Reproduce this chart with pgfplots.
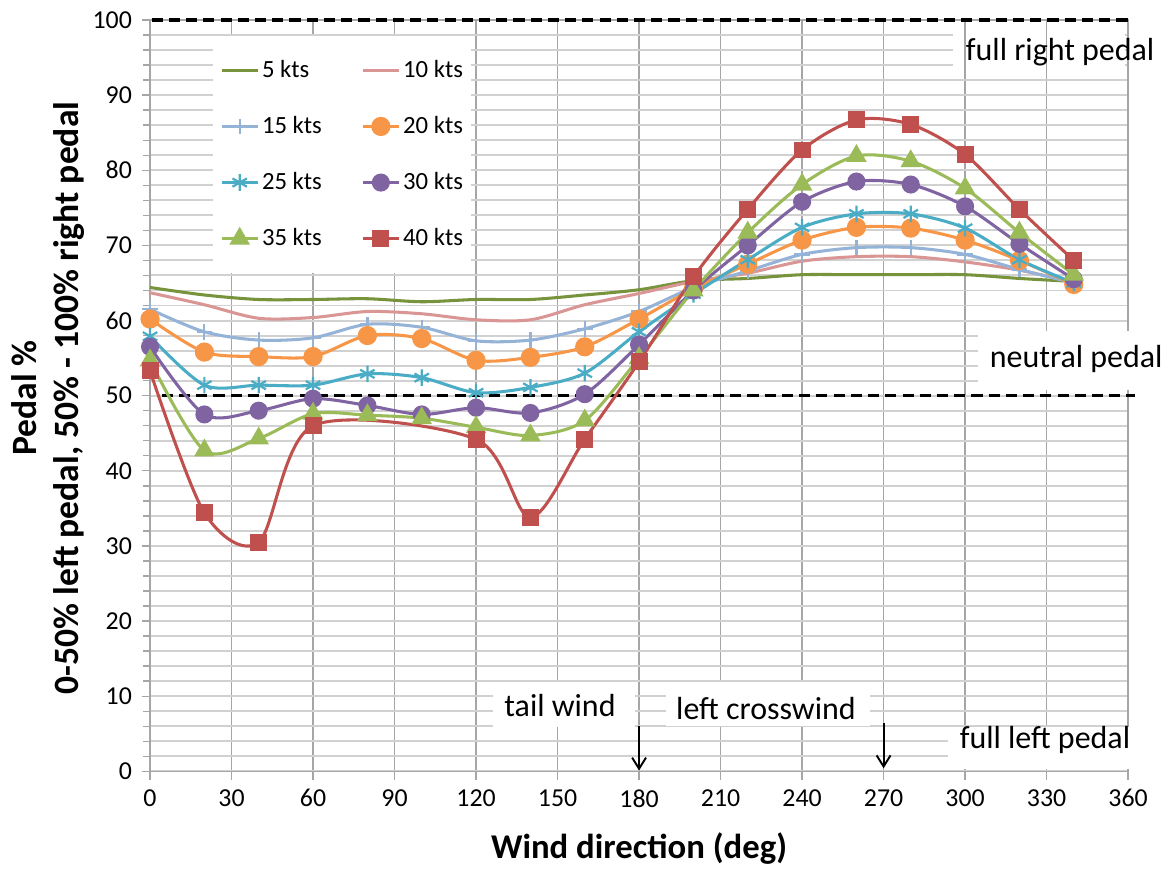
\documentclass[border=0pt]{standalone}
\usepackage{fontspec}
\setmainfont{Carlito}
\usepackage{pgfplots}
\pgfplotsset{compat=1.18}
\usetikzlibrary{arrows.meta}

\definecolor{kA}{HTML}{77933C}
\definecolor{kB}{HTML}{D99694}
\definecolor{kC}{HTML}{95B3D7}
\definecolor{kD}{HTML}{F79646}
\definecolor{kE}{HTML}{4BACC6}
\definecolor{kF}{HTML}{8064A2}
\definecolor{kG}{HTML}{9BBB59}
\definecolor{kH}{HTML}{C0504D}

\begin{document}
\begin{tikzpicture}
\begin{axis}[
    scale only axis,
    width=352pt, height=270.4pt,
    xmin=0, xmax=360, ymin=0, ymax=100,
    xtick={0,30,...,360},
    ytick={0,10,...,100},
    minor y tick num=4,
    tick pos=left,
    tick align=outside,
    major tick length=3pt,
    minor tick length=2.5pt,
    tick style={color=black!35, line width=0.5pt},
    axis line style={black!35, line width=0.5pt},
    xmajorgrids, ymajorgrids, yminorgrids,
    x grid style={color=black!35, line width=0.5pt},
    y grid style={color=black!18, line width=0.7pt},
    ticklabel style={font=\fontsize{9.3}{11}\selectfont},
    /pgf/number format/assume math mode=true,
    xlabel={Wind direction (deg)},
    xlabel style={font=\bfseries\fontsize{12.5}{14}\selectfont,
        at={(axis description cs:0.5,-0.1158)}, anchor=base},
    ylabel={Pedal \%\\0-50\% left pedal, 50\% - 100\% right pedal},
    ylabel style={font=\bfseries\fontsize{12.8}{15.1}\selectfont, align=center,
        at={(axis description cs:-0.1043,0.497)}, anchor=center},
    clip=false,
    legend columns=2,
    legend cell align=left,
    legend image code/.code={
        \draw[mark repeat=2,mark phase=2,#1]
            plot coordinates {(0pt,0pt) (6.3pt,0pt) (12.6pt,0pt)};},
    legend style={draw=none, fill=white,
        at={(0.0634,0.98)}, anchor=north west,
        inner xsep=2.9pt, inner ysep=8pt,
        font=\fontsize{8.9}{11}\selectfont,
        row sep=11.2pt,
        nodes={inner sep=0pt, text height=7pt, text depth=2pt},
        /tikz/every odd column/.append style={column sep=1.2pt},
        /tikz/every even column/.append style={column sep=14.4pt}},
]

% white boxes behind the annotations
\fill[white] (axis cs:295.6,92.6) rectangle (axis cs:359.0,99.3);
\fill[white] (axis cs:304.8,50.7) rectangle (axis cs:373.6,58.6);
\fill[white] (axis cs:126.3,5.9) rectangle (axis cs:178.5,11.9);
\fill[white] (axis cs:189.9,6.0) rectangle (axis cs:265.0,11.9);
\fill[white] (axis cs:293.7,0.3) rectangle (axis cs:360.3,5.9);
\draw[black!35, line width=0.5pt] (axis cs:300,92.6) -- (axis cs:300,99.3);
\draw[black!35, line width=0.5pt] (axis cs:330,92.6) -- (axis cs:330,99.3);

\node[anchor=base, inner sep=0pt, font=\fontsize{11.5}{13}\selectfont]
    at (axis cs:335.0,94.65) {full right pedal};
\node[anchor=base, inner sep=0pt, font=\fontsize{11.5}{13}\selectfont]
    at (axis cs:340.9,53.7) {neutral pedal};
\node[anchor=base, inner sep=0pt, font=\fontsize{11.5}{13}\selectfont]
    at (axis cs:150.9,7.3) {tail wind};
\node[anchor=base, inner sep=0pt, font=\fontsize{11.5}{13}\selectfont]
    at (axis cs:226.7,6.9) {left crosswind};
\node[anchor=base, inner sep=0pt, font=\fontsize{11.5}{13}\selectfont]
    at (axis cs:329.4,3.0) {full left pedal};

\draw[black, line width=1.1pt, dash pattern=on 4pt off 2.2pt]
    (axis cs:0.6,100) -- (axis cs:360.3,100);
\draw[black, line width=1.1pt, dash pattern=on 4pt off 2.2pt]
    (axis cs:4.3,50) -- (axis cs:362.4,50);
\draw[black, line width=0.7pt, -{Straight Barb[length=4pt,width=5pt]}]
    (axis cs:180,6.0) -- (axis cs:180,0.1);
\draw[black, line width=0.7pt, -{Straight Barb[length=4pt,width=5pt]}]
    (axis cs:270,6.4) -- (axis cs:270,0.4);

\addplot[kA, line width=1.1pt, smooth, no markers] coordinates {
(0,64.4)(20,63.4)(40,62.8)(60,62.8)(80,62.9)(100,62.5)(120,62.8)(140,62.8)(160,63.4)
(180,64.1)(200,65.3)(220,65.6)(240,66.1)(260,66.1)(280,66.1)(300,66.1)(320,65.6)(340,65.2)};
\addplot[kB, line width=1.1pt, smooth, no markers] coordinates {
(0,63.7)(20,62.1)(40,60.3)(60,60.4)(80,61.2)(100,60.9)(120,60.1)(140,60.1)(160,62.1)
(180,63.6)(200,65.2)(220,66.3)(240,67.9)(260,68.5)(280,68.5)(300,67.8)(320,66.7)(340,65.1)};
\addplot[kC, line width=1.1pt, smooth, mark=+, mark size=2.8pt, mark options={line width=0.8pt}] coordinates {
(0,61.5)(20,58.5)(40,57.4)(60,57.7)(80,59.5)(100,59.1)(120,57.3)(140,57.4)(160,58.9)
(180,61.2)(200,64.4)(220,66.6)(240,68.8)(260,69.7)(280,69.7)(300,68.8)(320,66.8)(340,65.0)};
\addplot[kD, line width=1.1pt, smooth, mark=*, mark size=2.9pt, mark options={fill=kD}] coordinates {
(0,60.2)(20,55.8)(40,55.2)(60,55.2)(80,58.0)(100,57.6)(120,54.7)(140,55.1)(160,56.5)
(180,60.2)(200,64.2)(220,67.5)(240,70.7)(260,72.4)(280,72.3)(300,70.7)(320,68.0)(340,64.8)};
\addplot[kE, line width=1.1pt, smooth, mark=asterisk, mark size=3pt, mark options={line width=0.8pt}] coordinates {
(0,57.9)(20,51.4)(40,51.4)(60,51.4)(80,52.9)(100,52.4)(120,50.4)(140,51.1)(160,53.0)
(180,58.5)(200,63.5)(220,68.1)(240,72.4)(260,74.2)(280,74.2)(300,72.3)(320,68.1)(340,65.0)};
\addplot[kF, line width=1.1pt, smooth, mark=*, mark size=2.7pt, mark options={fill=kF}] coordinates {
(0,56.5)(20,47.5)(40,48.0)(60,49.6)(80,48.7)(100,47.5)(120,48.4)(140,47.7)(160,50.2)
(180,56.8)(200,64.0)(220,70.0)(240,75.8)(260,78.5)(280,78.1)(300,75.2)(320,70.2)(340,65.5)};
\addplot[kG, line width=1.1pt, smooth, mark=triangle*, mark size=3.2pt, mark options={fill=kG}] coordinates {
(0,54.7)(20,42.7)(40,44.3)(60,47.6)(80,47.4)(100,47.0)(120,45.8)(140,44.7)(160,46.7)
(180,55.0)(200,64.0)(220,71.7)(240,78.1)(260,81.9)(280,81.2)(300,77.6)(320,71.7)(340,66.1)};
\addplot[kH, line width=1.1pt, smooth, mark=square*, mark size=2.5pt, mark options={fill=kH}] coordinates {
(0,53.3)(20,34.4)(40,30.5)(60,46.0)(120,44.2)(140,33.8)(160,44.2)
(180,54.5)(200,65.8)(220,74.8)(240,82.7)(260,86.7)(280,86.1)(300,82.1)(320,74.8)(340,68.0)};

\legend{5 kts, 10 kts, 15 kts, 20 kts, 25 kts, 30 kts, 35 kts, 40 kts}
\end{axis}
\pgfresetboundingbox
\path[use as bounding box]
    ([xshift=-54pt,yshift=-35.3pt]current axis.south west)
    rectangle ([xshift=14pt,yshift=7.2pt]current axis.north east);
\end{tikzpicture}
\end{document}
